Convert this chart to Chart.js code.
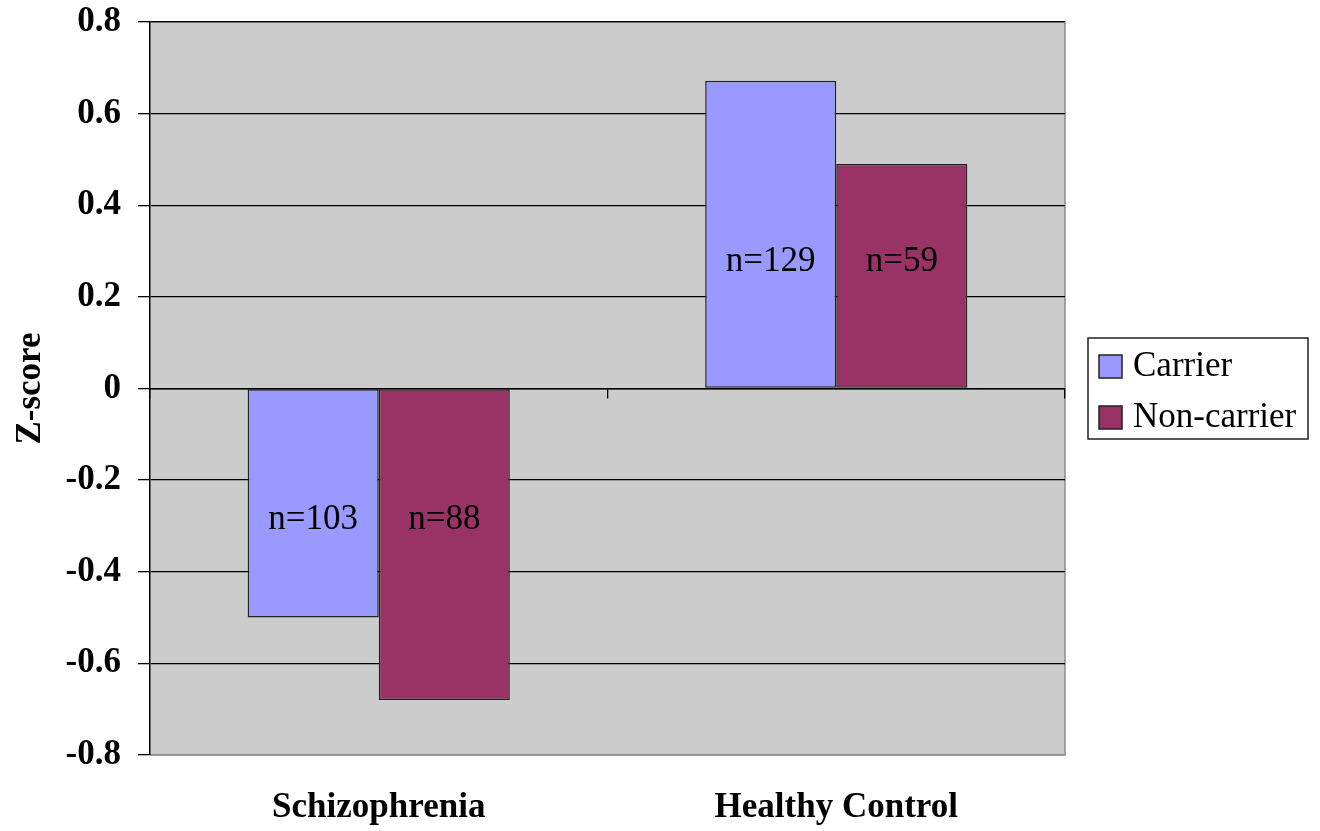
<!DOCTYPE html>
<html>
<head>
<meta charset="utf-8">
<script src="https://cdn.jsdelivr.net/npm/chart.js@4.4.1/dist/chart.umd.min.js"></script>
<style>
  html, body { margin: 0; padding: 0; background: #fff; }
  #wrap { width: 1320px; height: 831px; }
</style>
</head>
<body>
<div id="wrap"><canvas id="zChart"></canvas></div>
<script>
// data
const groups = ["Schizophrenia", "Healthy Control"];
const carrier = [-0.50, 0.672];
const nonCarrier = [-0.68, 0.49];
const carrierN = [103, 129];
const nonCarrierN = [88, 59];
const yTicks = [-0.8, -0.6, -0.4, -0.2, 0, 0.2, 0.4, 0.6, 0.8];

const serif = "'Liberation Serif', 'Times New Roman', serif";
const counts = [carrierN, nonCarrierN];

// grey plot background + grey frame on the right
const plotBg = {
    id: "plotBg",
    beforeDraw(chart) {
        const { ctx, chartArea: a } = chart;
        ctx.save();
        ctx.fillStyle = "#cccccc";
        ctx.fillRect(a.left, a.top, a.right - a.left, a.bottom - a.top);
        ctx.strokeStyle = "#8a8a8a";
        ctx.lineWidth = 1.5;
        ctx.beginPath();
        ctx.moveTo(a.left, a.top);
        ctx.lineTo(a.right, a.top);
        ctx.lineTo(a.right, a.bottom);
        ctx.lineTo(a.left, a.bottom);
        ctx.stroke();
        ctx.restore();
    }
};

// n= labels inside the bars, both on one line per group
const nLabels = {
    id: "nLabels",
    afterDatasetsDraw(chart) {
        const { ctx } = chart;
        const y = chart.scales.y;
        ctx.save();
        ctx.font = "35px " + serif;
        ctx.fillStyle = "#000";
        ctx.textAlign = "center";
        ctx.textBaseline = "middle";
        chart.data.datasets.forEach((ds, i) => {
            chart.getDatasetMeta(i).data.forEach((bar, j) => {
                const a = carrier[j], b = nonCarrier[j];
                const short = Math.abs(a) < Math.abs(b) ? a : b;
                ctx.fillText("n=" + counts[i][j], bar.x, y.getPixelForValue(short * 0.57) + 1);
            });
        });
        ctx.restore();
    }
};

// boxed legend on the right
const boxLegend = {
    id: "boxLegend",
    afterDraw(chart) {
        const { ctx } = chart;
        const x = 1088, top = 338, w = 220, h = 101;
        ctx.save();
        ctx.fillStyle = "#fff";
        ctx.fillRect(x, top, w, h);
        ctx.strokeStyle = "#222";
        ctx.lineWidth = 1.5;
        ctx.strokeRect(x, top, w, h);
        ctx.font = "35px " + serif;
        ctx.textBaseline = "middle";
        chart.data.datasets.forEach((ds, i) => {
            const sy = 355 + i * 51;
            ctx.fillStyle = ds.backgroundColor;
            ctx.fillRect(1099, sy, 23, 23);
            ctx.strokeStyle = "#222";
            ctx.strokeRect(1099, sy, 23, 23);
            ctx.fillStyle = "#000";
            ctx.fillText(ds.label, 1133, sy + 12);
        });
        ctx.restore();
    }
};

new Chart(document.getElementById("zChart"), {
    type: "bar",
    plugins: [plotBg, nLabels, boxLegend],
    data: {
        labels: groups,
        datasets: [
            {
                label: "Carrier",
                data: carrier,
                backgroundColor: "#9999ff",
                borderColor: "#222",
                borderWidth: 1.5,
                borderSkipped: false
            },
            {
                label: "Non-carrier",
                data: nonCarrier,
                backgroundColor: "#993366",
                borderColor: "#222",
                borderWidth: 1.5,
                borderSkipped: false
            }
        ]
    },
    options: {
        responsive: true,
        maintainAspectRatio: false,
        animation: false,
        layout: { padding: { left: 0, right: 255, top: 22, bottom: 0 } },
        datasets: { bar: { categoryPercentage: 0.573, barPercentage: 1.0 } },
        plugins: {
            legend: { display: false },
            tooltip: { enabled: false }
        },
        scales: {
            x: {
                position: "bottom",
                offset: true,
                grid: { display: false, drawTicks: false },
                border: { display: false },
                ticks: {
                    color: "#000",
                    padding: 32,
                    font: { family: serif, size: 35, weight: "bold" }
                },
                afterFit: (s) => { s.height = 76; }
            },
            x2: {
                type: "category",
                position: { y: 0 },
                offset: true,
                grid: {
                    offset: true,
                    drawOnChartArea: false,
                    drawTicks: true,
                    tickLength: 9,
                    color: "#000",
                    lineWidth: 1.3
                },
                border: { display: true, color: "#000", width: 1.5 },
                ticks: { display: false }
            },
            y: {
                min: -0.8,
                max: 0.8,
                afterBuildTicks: (s) => { s.ticks = yTicks.map(v => ({ value: v })); },
                afterFit: (s) => {
                    s.width = 150;
                    s.paddingTop = 0;
                    s.paddingBottom = 0;
                },
                grid: {
                    color: (c) => (c.tick && Math.abs(c.tick.value + 0.8) < 1e-6) ? "#8a8a8a" : "#000",
                    tickColor: "#000",
                    lineWidth: 1.3,
                    tickLength: 12
                },
                border: { display: true, color: "#000", width: 1.5 },
                ticks: {
                    color: "#000",
                    padding: 17,
                    font: { family: serif, size: 35, weight: "bold" },
                    callback: (v) => (Math.round(v * 10) / 10).toString()
                },
                title: {
                    display: true,
                    text: "Z-score",
                    color: "#000",
                    padding: { top: 10, bottom: 0 },
                    font: { family: serif, size: 35, weight: "bold" }
                }
            }
        }
    }
});
</script>
</body>
</html>
